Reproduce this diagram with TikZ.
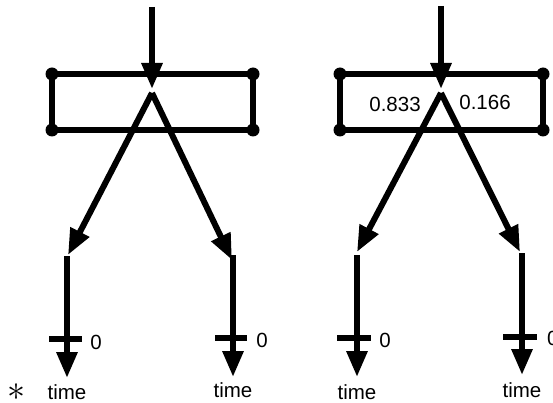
\documentclass[tikz,border=0pt]{standalone}
\usepackage{fontspec}
\setmainfont{Liberation Sans}
\usetikzlibrary{arrows.meta}
\begin{document}
\begin{tikzpicture}[x=1pt,y=-1pt,
  wire/.style={line width=6pt},
  arr/.style={wire,-{Triangle[length=26pt,width=20pt]}},
  dot/.style={circle,fill,inner sep=0pt,minimum size=13pt},
  lbl/.style={font=\fontsize{20.5}{24}\selectfont,inner sep=0pt}]
\useasboundingbox (0,0) rectangle (553,403);
% ---------- left diagram ----------
\coordinate (Lsrc) at (152,7);
\coordinate (Lin) at (152,89);
\node[dot] (La) at (52,74) {};
\node[dot] (Lb) at (253,74) {};
\node[dot] (Lc) at (253,130) {};
\node[dot] (Ld) at (52,130) {};
\draw[wire] (La.center) -- (Lb.center) -- (Lc.center) -- (Ld.center) -- cycle;
\draw[arr] (Lsrc) -- (Lin);
\coordinate (Lapex) at (152,93);
\coordinate (Lltip) at (68,255);
\coordinate (Lrtip) at (232,260);
\draw[arr] (Lapex) -- (Lltip);
\draw[arr] (Lapex) -- (Lrtip);
\coordinate (Llv) at (67,256);
\coordinate (Llend) at (67,378);
\coordinate (Lrv) at (233,255);
\coordinate (Lrend) at (233,377);
\draw[arr] (Llv) -- (Llend);
\draw[arr] (Lrv) -- (Lrend);
\draw[wire] (49,339) -- (82,339);
\draw[wire] (215,338) -- (247,338);
\node[lbl] (L0a) at (96,342) {0};
\node[lbl] (L0b) at (262,340) {0};
\node[lbl] (Lta) at (67,392) {time};
\node[lbl] (Ltb) at (233,390) {time};
\node[inner sep=0pt] (star) at (17,392) {\scalebox{3.6}{$\ast$}};
% ---------- right diagram ----------
\coordinate (Rsrc) at (441,6);
\coordinate (Rin) at (441,89);
\node[dot] (Ra) at (340,74) {};
\node[dot] (Rb) at (543,74) {};
\node[dot] (Rc) at (543,130) {};
\node[dot] (Rd) at (340,130) {};
\draw[wire] (Ra.center) -- (Rb.center) -- (Rc.center) -- (Rd.center) -- cycle;
\draw[arr] (Rsrc) -- (Rin);
\coordinate (Rapex) at (441,93);
\coordinate (Rltip) at (357,252);
\coordinate (Rrtip) at (520,252);
\draw[arr] (Rapex) -- (Rltip);
\draw[arr] (Rapex) -- (Rrtip);
\coordinate (Rlv) at (357,255);
\coordinate (Rlend) at (357,377);
\coordinate (Rrv) at (522,253);
\coordinate (Rrend) at (522,375);
\draw[arr] (Rlv) -- (Rlend);
\draw[arr] (Rrv) -- (Rrend);
\draw[wire] (337,338) -- (371,338);
\draw[wire] (503,337) -- (537,337);
\node[lbl] (Rp1) at (395,104) {0.833};
\node[lbl] (Rp2) at (485,102) {0.166};
\node[lbl] (R0a) at (385,340) {0};
\node[lbl,anchor=west] (R0b) at (547,338) {0};
\node[lbl] (Rta) at (357,392) {time};
\node[lbl] (Rtb) at (522,390) {time};
\end{tikzpicture}
\end{document}
